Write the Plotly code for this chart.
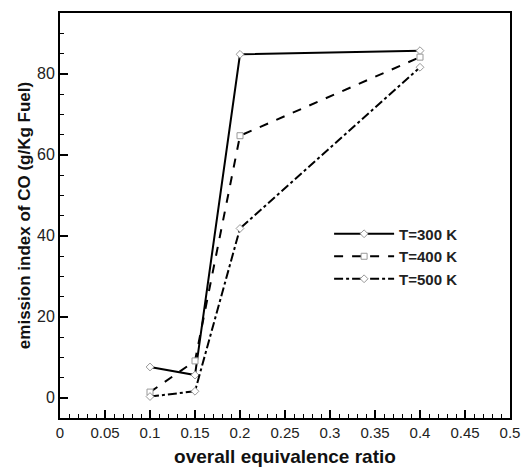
import plotly.graph_objects as go

phi = [0.1, 0.15, 0.2, 0.4]
ei_300 = [7.6, 5.6, 84.8, 85.7]
ei_400 = [1.4, 9.1, 64.7, 84.1]
ei_500 = [0.3, 1.6, 41.8, 81.6]
names = ["T=300 K", "T=400 K", "T=500 K"]
dashes = ["solid", "dash", "dashdot"]
symbols = ["diamond", "square", "diamond"]

fig = go.Figure()
for name, ys, d, s in zip(names, [ei_300, ei_400, ei_500], dashes, symbols):
    fig.add_trace(go.Scatter(
        x=phi, y=ys, name=name, mode="lines+markers",
        line=dict(color="black", width=2, dash=d),
        marker=dict(symbol=s, size=6, color="white", line=dict(color="#999999", width=1)),
    ))

fig.update_layout(
    width=529, height=467,
    margin=dict(l=60, r=19, t=13, b=49),
    plot_bgcolor="white", paper_bgcolor="white",
    font=dict(family="Liberation Sans, Arial, sans-serif", color="#222222", size=15),
    showlegend=True,
    legend=dict(x=0.598, y=0.495, xanchor="left", yanchor="top",
                bgcolor="rgba(0,0,0,0)", font=dict(size=15, family="Liberation Sans, Arial", weight="bold"),
                tracegroupgap=0, itemwidth=60),
)
fig.update_xaxes(
    range=[0, 0.5], dtick=0.05, showgrid=False, zeroline=False, automargin=False,
    showline=True, linecolor="black", linewidth=2, mirror=True,
    ticks="inside", ticklen=8, tickwidth=2, tickcolor="black",
    minor=dict(ticks="inside", ticklen=4, dtick=0.01, tickcolor="black", tickwidth=1),
    title=dict(text="overall equivalence ratio", font=dict(size=19, weight="bold", color="#111111")),
    tickfont=dict(size=15),
)
fig.update_yaxes(
    range=[-5, 95], dtick=20, showgrid=False, zeroline=False, automargin=False,
    showline=True, linecolor="black", linewidth=2, mirror=True,
    ticks="inside", ticklen=8, tickwidth=2, tickcolor="black",
    minor=dict(ticks="inside", ticklen=4, dtick=5, tickcolor="black", tickwidth=1),
    title=dict(text="emission index of CO (g/Kg Fuel)", font=dict(size=17, weight="bold", color="#111111"), standoff=2),
    tickfont=dict(size=16),
)
fig.write_html("out.html")
